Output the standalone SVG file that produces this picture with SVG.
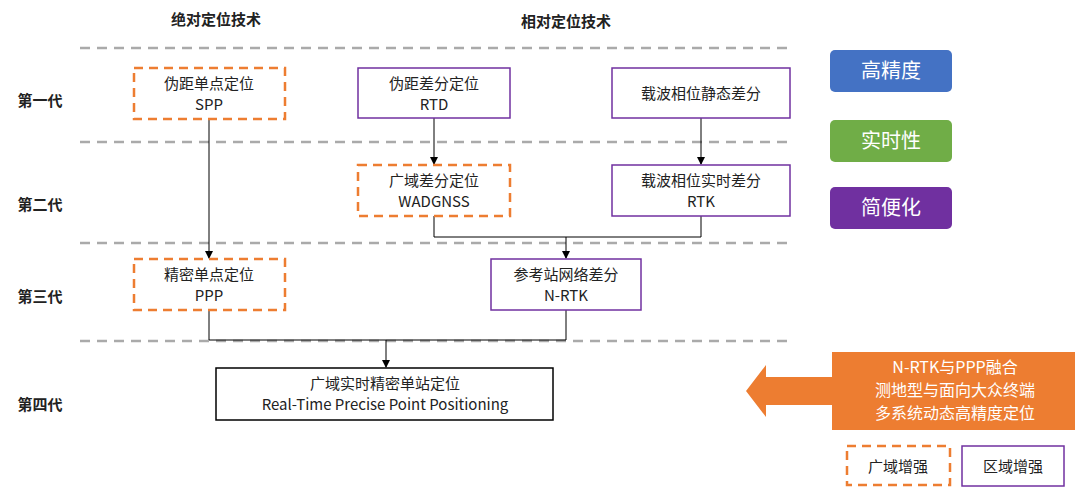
<svg xmlns="http://www.w3.org/2000/svg" width="1080" height="499" viewBox="0 0 1080 499">
<style>
text{font-family:"Noto Sans CJK SC","Liberation Sans",sans-serif;fill:#222;text-anchor:middle}
.t{font-size:15px}
.h{font-size:15px;font-weight:bold}
.sep{stroke:#aaa;stroke-width:2.5;stroke-dasharray:10,7}
.wa{fill:#fff;stroke:#ED7D31;stroke-width:2.5;stroke-dasharray:9,6}
.ra{fill:#fff;stroke:#7030A0;stroke-width:1.5}
.c{fill:none;stroke:#000;stroke-width:1}
.btn{font-size:20px;fill:#fff}
</style>
<defs><marker id="a" markerWidth="8" markerHeight="8" refX="7" refY="4" orient="auto" markerUnits="userSpaceOnUse"><path d="M0,0 L8,4 L0,8Z" fill="#000"/></marker></defs>
<rect width="1080" height="499" fill="#fff"/>
<g id="headers">
<text class="h" x="216" y="25">绝对定位技术</text>
<text class="h" x="566" y="27">相对定位技术</text>
<text class="h" x="40" y="106">第一代</text>
<text class="h" x="40" y="210">第二代</text>
<text class="h" x="40" y="302">第三代</text>
<text class="h" x="40" y="410">第四代</text>
</g>
<g id="separators">
<line class="sep" x1="80" y1="48" x2="790" y2="48"/>
<line class="sep" x1="80" y1="142" x2="790" y2="142"/>
<line class="sep" x1="80" y1="243" x2="790" y2="243"/>
<line class="sep" x1="80" y1="341" x2="790" y2="341"/>
</g>
<g id="connectors">
<line class="c" x1="209" y1="119" x2="209" y2="258" marker-end="url(#a)"/>
<line class="c" x1="434" y1="118" x2="434" y2="164" marker-end="url(#a)"/>
<line class="c" x1="701" y1="118" x2="701" y2="164" marker-end="url(#a)"/>
<path class="c" d="M434,216 V237 H701 V216"/>
<line class="c" x1="566" y1="237" x2="566" y2="258" marker-end="url(#a)"/>
<path class="c" d="M209,310 V340 H566 V310"/>
<line class="c" x1="386" y1="340" x2="386" y2="367" marker-end="url(#a)"/>
</g>
<g id="spp"><rect class="wa" x="134" y="68" width="151" height="51"/><text class="t" x="209" y="89">伪距单点定位</text><text class="t" x="209" y="110">SPP</text></g>
<g id="rtd"><rect class="ra" x="358" y="68" width="152" height="50"/><text class="t" x="434" y="89">伪距差分定位</text><text class="t" x="434" y="110">RTD</text></g>
<g id="static"><rect class="ra" x="612" y="68" width="178" height="50"/><text class="t" x="701" y="99">载波相位静态差分</text></g>
<g id="wadgnss"><rect class="wa" x="358" y="165" width="152" height="51"/><text class="t" x="434" y="186">广域差分定位</text><text class="t" x="434" y="207">WADGNSS</text></g>
<g id="rtk"><rect class="ra" x="612" y="165" width="178" height="51"/><text class="t" x="701" y="186">载波相位实时差分</text><text class="t" x="701" y="207">RTK</text></g>
<g id="ppp"><rect class="wa" x="134" y="259" width="151" height="51"/><text class="t" x="209" y="280">精密单点定位</text><text class="t" x="209" y="301">PPP</text></g>
<g id="nrtk"><rect class="ra" x="491" y="259" width="150" height="51"/><text class="t" x="566" y="280">参考站网络差分</text><text class="t" x="566" y="301">N-RTK</text></g>
<g id="rtppp"><rect x="216" y="368" width="337" height="52" fill="#fff" stroke="#000" stroke-width="1.5"/><text class="t" x="385" y="389">广域实时精密单站定位</text><text class="t" x="385" y="410">Real-Time Precise Point Positioning</text></g>
<g id="legend-buttons">
<rect x="830" y="50" width="122" height="42" rx="5" fill="#4472C4"/><text class="btn" x="891" y="78">高精度</text>
<rect x="830" y="120" width="122" height="42" rx="5" fill="#70AD47"/><text class="btn" x="891" y="148">实时性</text>
<rect x="830" y="187" width="122" height="42" rx="5" fill="#7030A0"/><text class="btn" x="891" y="215">简便化</text>
</g>
<g id="fusion">
<path d="M832,352 H1075 V430 H832 V405 H766 V417 L746,391 L766,365 V377 H832 Z" fill="#ED7D31"/>
<text class="t" x="955" y="373" style="fill:#fff;font-size:16px">N-RTK与PPP融合</text>
<text class="t" x="955" y="396" style="fill:#fff;font-size:16px">测地型与面向大众终端</text>
<text class="t" x="955" y="419" style="fill:#fff;font-size:16px">多系统动态高精度定位</text>
</g>
<g id="legend">
<rect class="wa" x="847" y="446" width="103" height="39"/><text class="t" x="898" y="472">广域增强</text>
<rect class="ra" x="962" y="446" width="102" height="40"/><text class="t" x="1013" y="472">区域增强</text>
</g>
</svg>
